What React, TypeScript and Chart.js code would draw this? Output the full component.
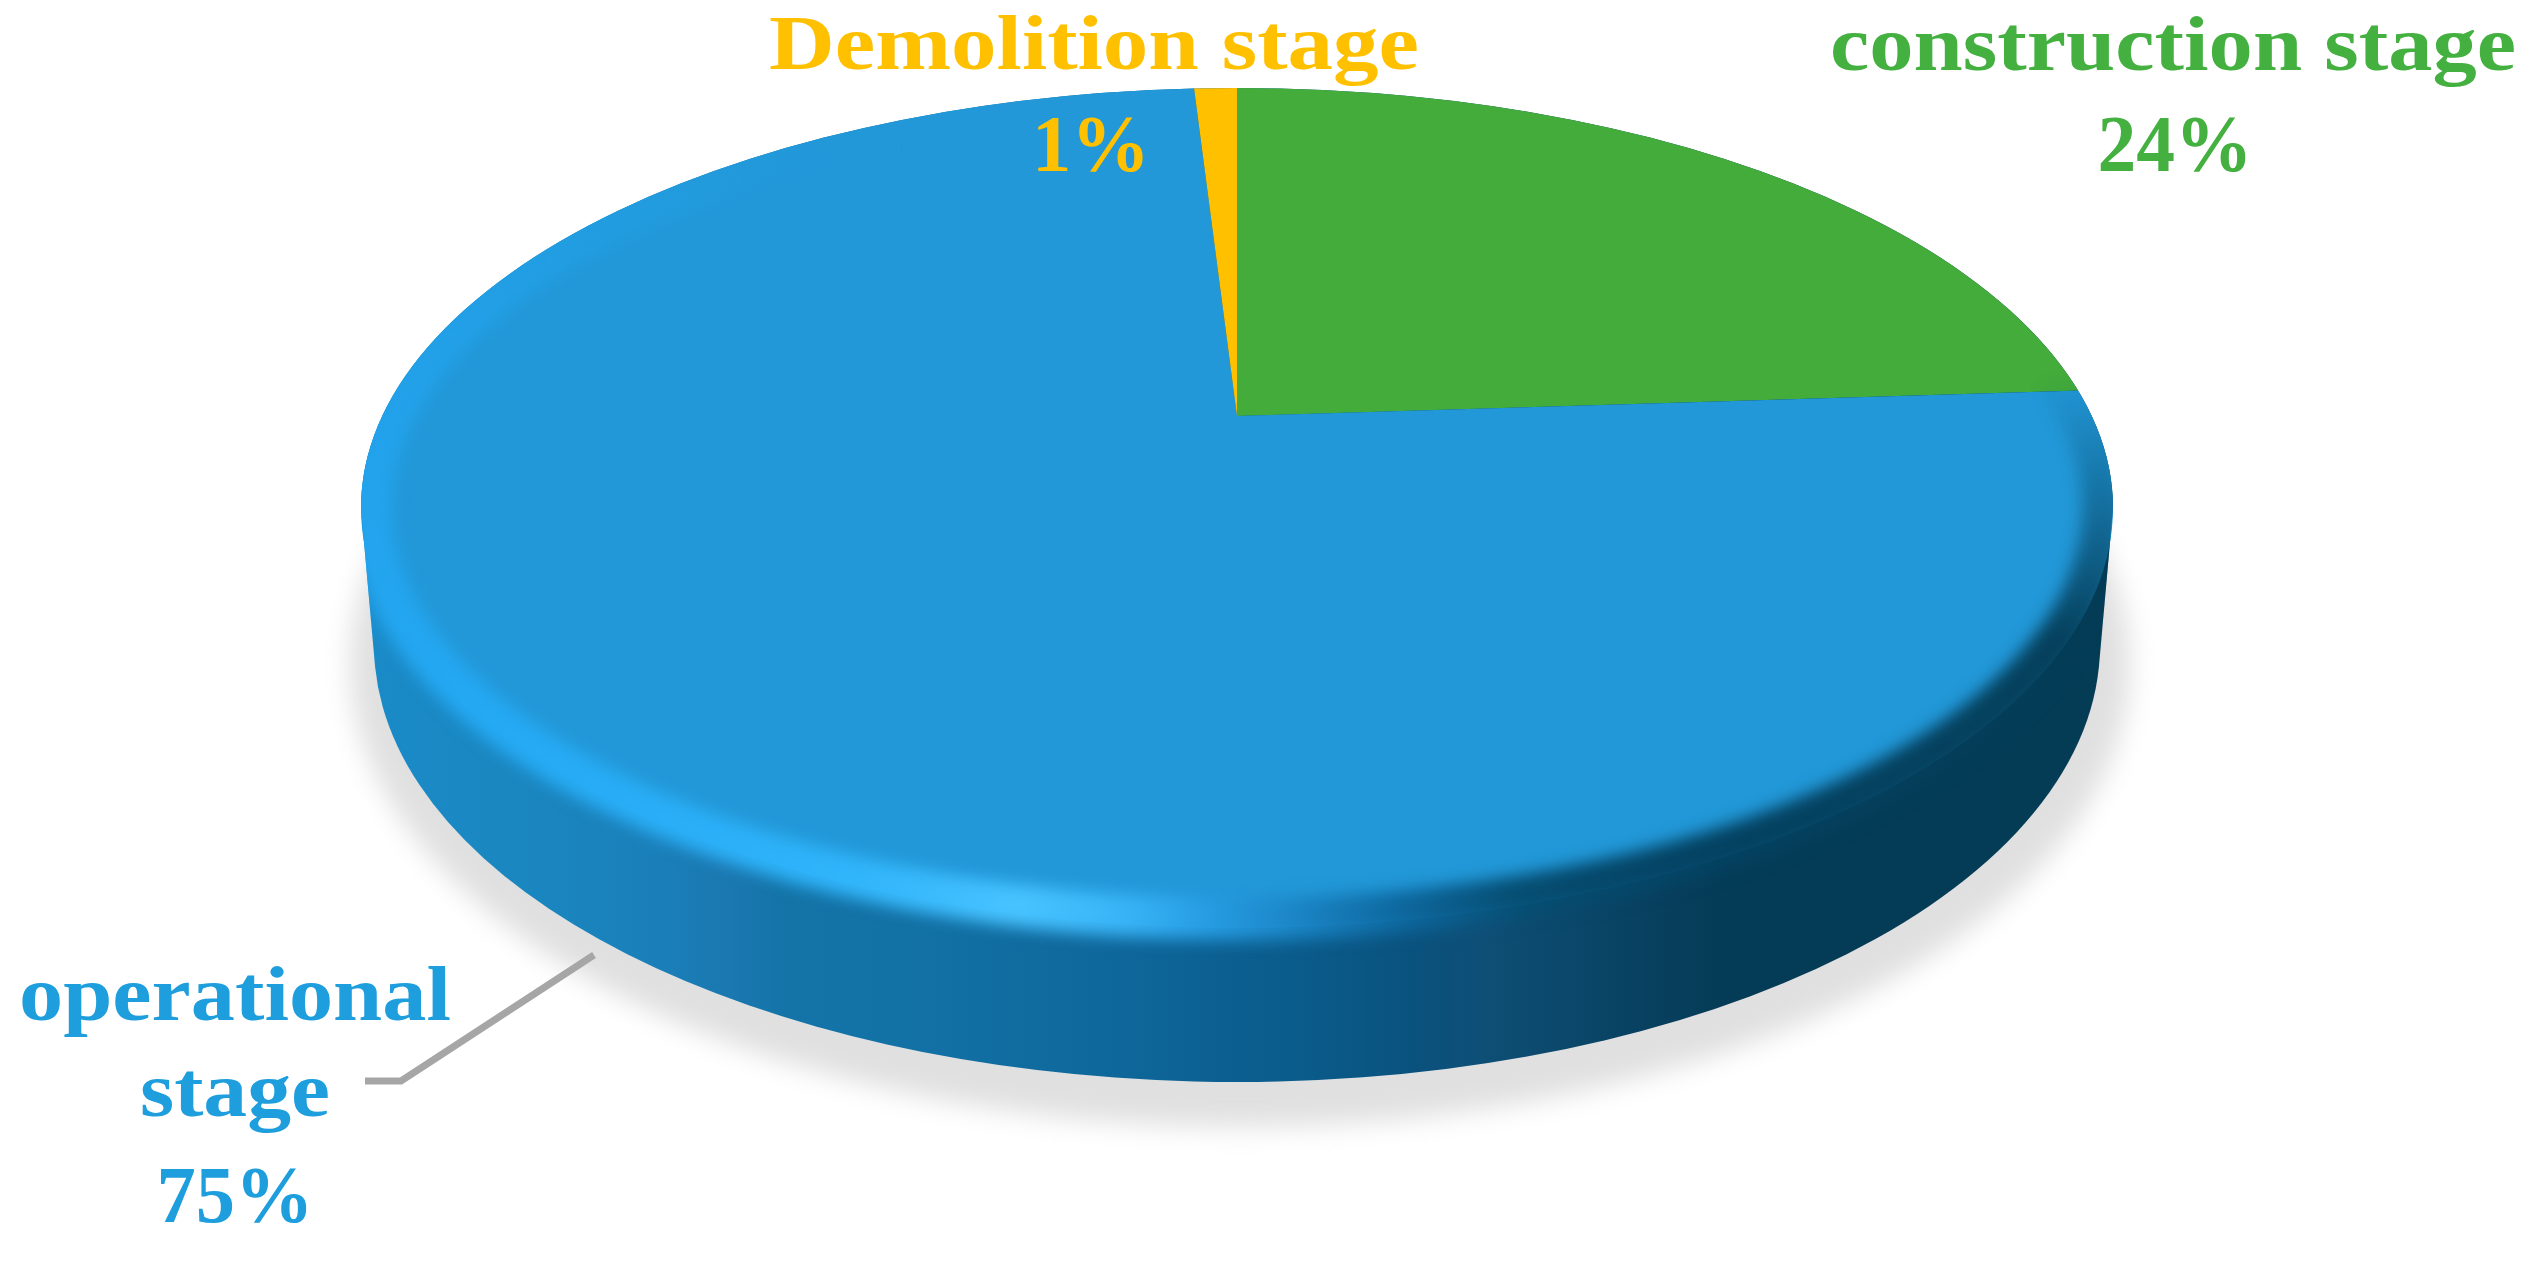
import React, { useEffect, useRef } from "react";
import { Chart, registerables } from "chart.js";

Chart.register(...registerables);

const categories = ["construction stage", "operational stage", "Demolition stage"];
const shares = [24, 75, 1];
const sliceColors = ["#43AC3B", "#2298D8", "#FFC000"];

const W = 2529;
const H = 1263;
const FACE = { cx: 1237, cy: 508, rx: 876, ry: 420 };
const BASE = { cx: 1237, cy: 645, rx: 863, ry: 437 };
const APEX = { x: 1237, y: 416 };
const SQUASH = 0.48;
const REACH = 1100;

const ellipsePath = (ctx: any, e: any) => {
  ctx.beginPath();
  ctx.ellipse(e.cx, e.cy, e.rx, e.ry, 0, 0, Math.PI * 2);
};

const silhouette = (ctx: any) => {
  const t = 0.05;
  ctx.beginPath();
  ctx.ellipse(FACE.cx, FACE.cy, FACE.rx, FACE.ry, 0, Math.PI, Math.PI * 2);
  ctx.ellipse(BASE.cx, BASE.cy, BASE.rx, BASE.ry, 0, t, Math.PI - t);
  ctx.closePath();
};

const pie3d = {
  id: "pie3d",
  beforeDatasetsDraw(chart: any) {
    const ctx = chart.ctx;
    const arc = chart.getDatasetMeta(0).data[0];
    // ground shadow
    ctx.save();
    ctx.filter = "blur(13px)";
    ctx.fillStyle = "#E0E0E0";
    ctx.beginPath();
    ctx.ellipse(1240, 664, 890, 463, 0, 0, Math.PI * 2);
    ctx.fill();
    ctx.restore();
    // side wall
    ctx.save();
    const g = ctx.createLinearGradient(361, 0, 2113, 0);
    [
      [0, "#1A8BC8"],
      [0.1, "#1A86BF"],
      [0.17, "#1A7FB9"],
      [0.21, "#1B78B0"],
      [0.24, "#1474A8"],
      [0.33, "#1270A4"],
      [0.42, "#0F689C"],
      [0.5, "#0B5F90"],
      [0.54, "#0A5B8A"],
      [0.6, "#0A527E"],
      [0.64, "#0E4F76"],
      [0.7, "#0A4668"],
      [0.75, "#073E5C"],
      [0.78, "#043C57"],
      [1, "#043C56"],
    ].forEach(([o, col]) => g.addColorStop(o, col));
    ctx.fillStyle = g;
    silhouette(ctx);
    ctx.fill();
    ctx.restore();
    // top face: clip to the ellipse, squash the library's pie
    ctx.save();
    ellipsePath(ctx, FACE);
    ctx.clip();
    const s = REACH / arc.outerRadius;
    ctx.translate(APEX.x, APEX.y);
    ctx.scale(s, s * SQUASH);
    ctx.translate(-arc.x, -arc.y);
  },
  afterDatasetsDraw(chart: any) {
    const ctx = chart.ctx;
    ctx.restore();
    // bevel
    ctx.save();
    silhouette(ctx);
    ctx.clip();
    const c = ctx.createConicGradient(0, FACE.cx, FACE.cy);
    c.addColorStop(0, "rgba(4,60,86,0.45)");
    c.addColorStop(0.025, "rgba(4,60,86,0.95)");
    c.addColorStop(0.1, "rgba(4,66,98,1)");
    c.addColorStop(0.15, "rgba(6,78,115,1)");
    c.addColorStop(0.19, "rgba(14,105,160,1)");
    c.addColorStop(0.23, "rgba(28,135,200,1)");
    c.addColorStop(0.26, "rgba(38,155,225,1)");
    c.addColorStop(0.29, "rgba(55,178,245,1)");
    c.addColorStop(0.33, "rgba(72,195,255,1)");
    c.addColorStop(0.38, "rgba(48,180,250,1)");
    c.addColorStop(0.46, "rgba(36,168,242,1)");
    c.addColorStop(0.53, "rgba(34,160,232,1)");
    c.addColorStop(0.58, "rgba(34,158,226,0.6)");
    c.addColorStop(0.63, "rgba(34,152,216,0)");
    c.addColorStop(0.975, "rgba(4,60,86,0)");
    c.addColorStop(1, "rgba(4,60,86,0.45)");
    ctx.filter = "blur(8px)";
    ctx.strokeStyle = c;
    ctx.lineWidth = 42;
    ctx.beginPath();
    ctx.ellipse(FACE.cx, FACE.cy, FACE.rx - 10, FACE.ry - 9, 0, 0, Math.PI * 2);
    ctx.stroke();
    ctx.restore();
  },
  afterDraw(chart: any) {
    const ctx = chart.ctx;
    ctx.save();
    // leader line
    ctx.strokeStyle = "#A6A6A6";
    ctx.lineWidth = 7;
    ctx.lineJoin = "miter";
    ctx.beginPath();
    ctx.moveTo(365, 1081);
    ctx.lineTo(401, 1081);
    ctx.lineTo(594, 955);
    ctx.stroke();
    // labels
    ctx.textAlign = "center";
    ctx.textBaseline = "alphabetic";
    const put = (t: string, x: number, y: number, color: string, size: number, width?: number) => {
      ctx.font = `bold ${size}px "Liberation Serif"`;
      ctx.fillStyle = color;
      ctx.save();
      ctx.translate(x, y);
      if (width) ctx.scale(width / ctx.measureText(t).width, 1);
      ctx.fillText(t, 0, 0);
      ctx.restore();
    };
    const yellow = "#FFC000";
    const green = "#43B040";
    const blue = "#1E9EDD";
    put(categories[2], 1094, 69, yellow, 79, 650);
    put(`${shares[2]}%`, 1091, 171, yellow, 80, 118);
    put(categories[0], 2173, 70, green, 79, 686);
    put(`${shares[0]}%`, 2175, 171, green, 80, 155);
    const [a, b] = categories[1].split(" ");
    put(a, 235, 1020, blue, 79, 432);
    put(b, 235, 1116, blue, 79, 190);
    put(`${shares[1]}%`, 235, 1222, blue, 80, 157);
    ctx.restore();
  },
};

export default function App() {
  const ref = useRef<HTMLCanvasElement>(null);
  useEffect(() => {
    const chart = new Chart(ref.current as HTMLCanvasElement, {
      type: "pie",
      data: {
        labels: categories,
        datasets: [{ data: shares, backgroundColor: sliceColors, borderWidth: 0, clip: false }],
      },
      options: {
        animation: false,
        responsive: false,
        devicePixelRatio: 1,
        rotation: 0,
        layout: { padding: 0 },
        plugins: { legend: { display: false }, tooltip: { enabled: false } },
      },
      plugins: [pie3d],
    } as any);
    return () => chart.destroy();
  }, []);
  return (
    <div style={{ position: "absolute", left: 0, top: 0, width: W, height: H, background: "#fff" }}>
      <canvas ref={ref} width={W} height={H} style={{ display: "block" }} />
    </div>
  );
}
